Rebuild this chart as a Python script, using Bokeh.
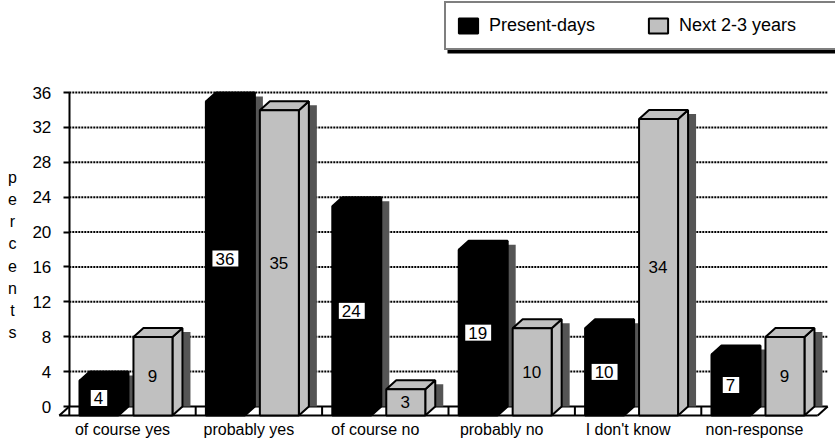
from bokeh.plotting import figure
from bokeh.models import Range1d, LinearAxis, FixedTicker, Legend, LegendItem
from bokeh.core.properties import value
from bokeh.embed import file_html
from bokeh.resources import INLINE

# ---- data -------------------------------------------------------------
categories = ["of course yes", "probably yes", "of course no",
              "probably no", "I don't know", "non-response"]
present_days = [4, 36, 24, 19, 10, 7]
next_2_3_years = [9, 35, 3, 10, 34, 9]
series_names = ["Present-days", "Next 2-3 years"]
y_ticks = [0, 4, 8, 12, 16, 20, 24, 28, 32, 36]
axis_title = "percents"

# ---- geometry (pixels -> data units) ----------------------------------
W_PX, H_PX = 835, 441
CAT_PX = 126.4      # px per category
CAT0_PX = 122.0     # x pixel of the first category centre (front plane)
ZERO_PX = 406.0     # y pixel of value 0 on the back wall
UNIT_PX = 8.72      # px per percent


def ux(px):
    return (px - CAT0_PX) / CAT_PX


def uy(py):
    return (ZERO_PX - py) / UNIT_PX


DX = 10 / CAT_PX    # 3-D depth, x component
DY = 9 / UNIT_PX    # 3-D depth, y component
BAR_W = 39 / CAT_PX
OFFSETS = [-0.186, 0.241]
SHADOW_DX = 8 / CAT_PX
SHADOW_DY = 0.45

FONT = value("Liberation Sans")
n = len(categories)
BL = -0.5 + DX          # back wall left
BR = n - 0.5 + DX       # back wall right

p = figure(width=W_PX, height=H_PX,
           x_range=Range1d(ux(0), ux(W_PX)),
           y_range=Range1d(uy(H_PX), uy(0)),
           output_backend="svg", toolbar_location=None,
           x_axis_location=None, y_axis_location=None,
           min_border=0, outline_line_color=None)
p.grid.visible = False
p.background_fill_color = "white"

# dotted gridlines on the back wall
grid_vals = y_ticks[1:]
p.segment(x0=[BL] * len(grid_vals), y0=grid_vals,
          x1=[BR] * len(grid_vals), y1=grid_vals,
          line_color="black", line_width=2, line_dash="2 1")

# floor
fx0 = [BL, BL - DX, BL - DX, BR - DX] + [BL + k for k in range(n)]
fy0 = [0, -DY, -DY, -DY] + [-DY] * n
fx1 = [BR, BR - DX, BL, BR] + [BL + k for k in range(n)]
fy1 = [0, -DY, 0, 0] + [0] * n
p.segment(x0=fx0, y0=fy0, x1=fx1, y1=fy1, line_color="black", line_width=2)

series = [(present_days, "black", "white"), (next_2_3_years, "#C0C0C0", "#C0C0C0")]
x_idx = list(range(n))

# shadows behind the bars
for (vals, _, _), off in zip(series, OFFSETS):
    left = [i + off - BAR_W / 2 + DX + SHADOW_DX for i in x_idx]
    right = [l + BAR_W for l in left]
    p.quad(left=left, right=right, bottom=[0] * n,
           top=[v - SHADOW_DY for v in vals],
           fill_color="#555555", line_color=None)

front_renderers = []
for (vals, col, box), off in zip(series, OFFSETS):
    fl = [i + off - BAR_W / 2 for i in x_idx]
    fr = [l + BAR_W for l in fl]
    side_xs = [[r, r + DX, r + DX, r] for r in fr]
    side_ys = [[-DY, 0, v, v - DY] for v in vals]
    top_xs = [[l, l + DX, r + DX, r] for l, r in zip(fl, fr)]
    top_ys = [[v - DY, v, v, v - DY] for v in vals]
    p.patches(xs=side_xs, ys=side_ys, fill_color=col, line_color="black", line_width=2)
    p.patches(xs=top_xs, ys=top_ys, fill_color=col, line_color="black", line_width=2)
    r = p.quad(left=fl, right=fr, bottom=[-DY] * n, top=[v - DY for v in vals],
               fill_color=col, line_color="black", line_width=2)
    front_renderers.append(r)
    p.text(x=[(l + r_) / 2 for l, r_ in zip(fl, fr)],
           y=[v / 2 - DY for v in vals],
           text=[str(v) for v in vals],
           text_align="center", text_baseline="middle",
           text_font=FONT, text_font_size="17px", text_color="black",
           background_fill_color=box,
           padding=dict(left=3, right=4, top=2, bottom=2))

# value axis on the back wall
yaxis = LinearAxis(fixed_location=BL, bounds=(0, 36),
                   ticker=FixedTicker(ticks=y_ticks, minor_ticks=[]),
                   axis_line_color="black", axis_line_width=2,
                   major_tick_line_color="black", major_tick_line_width=2,
                   major_tick_out=6, major_tick_in=0,
                   minor_tick_line_color=None,
                   major_label_standoff=12,
                   major_label_text_font="Liberation Sans",
                   major_label_text_font_size="17px",
                   major_label_text_color="black")
p.add_layout(yaxis, "left")

# category axis along the front edge of the floor
xaxis = LinearAxis(fixed_location=-DY,
                   ticker=FixedTicker(ticks=x_idx, minor_ticks=[]),
                   major_label_overrides={i: c for i, c in enumerate(categories)},
                   axis_line_color=None, major_tick_line_color=None,
                   minor_tick_line_color=None, major_tick_out=0, major_tick_in=0,
                   major_label_standoff=5,
                   major_label_text_font="Liberation Sans",
                   major_label_text_font_size="16px",
                   major_label_text_color="black")
p.add_layout(xaxis, "below")

# stacked axis title
p.text(x=[ux(12)], y=[uy(254.5)],
       text=["\n".join(axis_title)], text_align="center", text_baseline="middle",
       text_font=FONT, text_font_size="16px", text_color="black",
       text_line_height=1.31)

# legend drop shadow
p.quad(left=[ux(447)], right=[ux(W_PX + 20)], top=[uy(8)], bottom=[uy(53)],
       fill_color="black", line_color=None)

legend = Legend(items=[LegendItem(label=series_names[0], renderers=[front_renderers[0]]),
                       LegendItem(label=series_names[1], renderers=[front_renderers[1]])],
                orientation="horizontal", location=(444, H_PX - 50),
                margin=0, padding=10, spacing=7,
                glyph_width=24, glyph_height=19, label_standoff=9,
                label_width=150, label_height=25,
                label_text_font="Liberation Sans", label_text_font_size="18px",
                label_text_color="black",
                border_line_color="black", border_line_width=2,
                background_fill_color="white", background_fill_alpha=1)
p.add_layout(legend, "center")

open("out.html", "w").write(file_html(p, INLINE))
